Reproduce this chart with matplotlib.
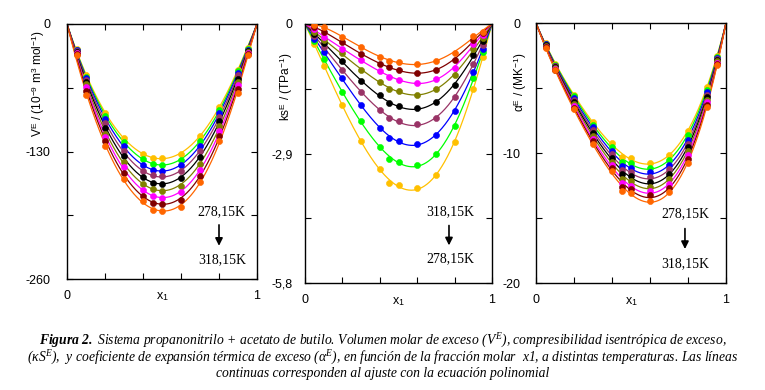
import numpy as np
import matplotlib
matplotlib.use("Agg")
import matplotlib.pyplot as plt

plt.rcParams['font.family'] = ['Liberation Sans', 'DejaVu Sans']
plt.rcParams['mathtext.fontset'] = 'custom'
plt.rcParams['mathtext.rm'] = 'Liberation Sans'
plt.rcParams['mathtext.it'] = 'Liberation Serif:italic'
plt.rcParams['mathtext.bf'] = 'Liberation Serif:italic:bold'

# ---------------- data ----------------
x_exp = [0.05, 0.1, 0.2, 0.3, 0.4, 0.45, 0.5, 0.6, 0.7, 0.8, 0.9, 0.95]
temperatures = ['278,15K', '283,15K', '288,15K', '293,15K', '298,15K',
                '303,15K', '308,15K', '313,15K', '318,15K']
colors = ['#FFC000', '#00FF00', '#0000FF', '#993366', '#000000',
          '#808000', '#FF00FF', '#800000', '#FF6600']

VE_278 = [-25.5, -52.5, -90.5, -116.0, -132.6, -136.3, -136.6, -132.2, -114.5, -84.3, -46.4, -24.4]
VE_283 = [-26.3, -53.8, -93.3, -120.0, -137.7, -142.3, -143.4, -138.7, -119.5, -87.7, -48.1, -25.4]
VE_288 = [-27.0, -55.2, -96.5, -124.5, -144.1, -148.5, -149.6, -143.8, -124.5, -91.0, -49.8, -26.1]
VE_293 = [-27.7, -56.9, -101.0, -129.7, -150.2, -154.3, -155.3, -150.2, -129.8, -94.4, -52.5, -27.1]
VE_298 = [-28.4, -58.9, -106.5, -134.7, -156.0, -161.7, -163.1, -157.0, -135.3, -98.9, -55.9, -27.8]
VE_303 = [-29.2, -61.6, -111.7, -140.2, -162.8, -168.0, -170.0, -164.9, -142.5, -104.0, -59.2, -28.8]
VE_308 = [-29.9, -64.7, -115.5, -146.0, -168.9, -175.0, -177.4, -171.6, -149.0, -109.0, -62.6, -29.4]
VE_313 = [-30.6, -68.1, -119.3, -151.9, -175.0, -182.5, -183.2, -179.1, -155.0, -114.1, -66.0, -30.5]
VE_318 = [-31.5, -72.5, -124.5, -157.7, -180.8, -189.3, -190.3, -186.6, -161.5, -119.2, -70.0, -32.0]

KS_278 = [-0.45, -0.93, -1.82, -2.62, -3.25, -3.55, -3.61, -3.68, -3.38, -2.65, -1.45, -0.74]
KS_283 = [-0.39, -0.78, -1.53, -2.17, -2.75, -3.02, -3.09, -3.15, -2.92, -2.29, -1.22, -0.63]
KS_288 = [-0.33, -0.63, -1.22, -1.82, -2.32, -2.55, -2.62, -2.68, -2.48, -1.95, -1.08, -0.55]
KS_293 = [-0.27, -0.52, -1.02, -1.52, -1.92, -2.11, -2.18, -2.25, -2.10, -1.64, -0.89, -0.46]
KS_298 = [-0.22, -0.43, -0.83, -1.28, -1.60, -1.78, -1.84, -1.89, -1.74, -1.37, -0.69, -0.38]
KS_303 = [-0.17, -0.36, -0.66, -1.02, -1.30, -1.45, -1.51, -1.58, -1.45, -1.15, -0.55, -0.31]
KS_308 = [-0.12, -0.29, -0.55, -0.81, -1.05, -1.18, -1.26, -1.32, -1.23, -0.99, -0.44, -0.25]
KS_313 = [-0.07, -0.18, -0.40, -0.68, -0.89, -0.96, -1.04, -1.10, -1.02, -0.80, -0.35, -0.21]
KS_318 = [-0.02, -0.07, -0.28, -0.52, -0.73, -0.82, -0.86, -0.90, -0.82, -0.64, -0.27, -0.17]

AE_278 = [-1.55, -3.15, -5.50, -7.62, -9.23, -10.33, -10.40, -10.77, -10.13, -8.33, -4.95, -2.56]
AE_283 = [-1.59, -3.21, -5.60, -7.82, -9.52, -10.67, -10.77, -11.15, -10.50, -8.64, -5.14, -2.64]
AE_288 = [-1.64, -3.27, -5.75, -8.02, -9.82, -11.00, -11.12, -11.48, -10.90, -8.97, -5.33, -2.72]
AE_293 = [-1.68, -3.33, -5.90, -8.24, -10.10, -11.32, -11.46, -11.85, -11.25, -9.28, -5.53, -2.80]
AE_298 = [-1.72, -3.39, -6.05, -8.46, -10.38, -11.65, -11.80, -12.23, -11.65, -9.56, -5.72, -2.88]
AE_303 = [-1.77, -3.45, -6.20, -8.67, -10.66, -11.97, -12.17, -12.59, -12.00, -9.87, -5.91, -2.96]
AE_308 = [-1.81, -3.52, -6.35, -8.90, -10.95, -12.30, -12.53, -12.90, -12.35, -10.18, -6.10, -3.04]
AE_313 = [-1.86, -3.58, -6.50, -9.10, -11.18, -12.62, -12.80, -13.25, -12.68, -10.46, -6.30, -3.12]
AE_318 = [-1.90, -3.64, -6.65, -9.30, -11.41, -12.95, -13.05, -13.66, -13.02, -10.77, -6.49, -3.20]

VE = [VE_278, VE_283, VE_288, VE_293, VE_298, VE_303, VE_308, VE_313, VE_318]
KS = [KS_278, KS_283, KS_288, KS_293, KS_298, KS_303, KS_308, KS_313, KS_318]
AE = [AE_278, AE_283, AE_288, AE_293, AE_298, AE_303, AE_308, AE_313, AE_318]


def rk_fit(x, y, order=5):
    x = np.asarray(x)
    y = np.asarray(y)
    A = np.column_stack([x * (1 - x) * (2 * x - 1) ** k for k in range(order)])
    coef, *_ = np.linalg.lstsq(A, y, rcond=None)
    xf = np.linspace(0, 1, 300)
    Af = np.column_stack([xf * (1 - xf) * (2 * xf - 1) ** k for k in range(order)])
    return xf, Af @ coef


fig = plt.figure(figsize=(7.65, 3.90), dpi=100)
W, H = 765.0, 390.0

def make_ax(l, r, t, b):
    return fig.add_axes([l / W, 1 - b / H, (r - l) / W, (b - t) / H])

ax1 = make_ax(67, 257, 24, 279)
ax2 = make_ax(305, 492, 24, 283)
ax3 = make_ax(536, 726, 23, 283)

panels = [
    (ax1, VE, -260, [-260, -195, -130, -65, 0], ['-260', '', '-130', '', '0'],
     r'V$^{\mathrm{E}}$ / (10$^{\mathrm{-9}}$ m$^{\mathrm{3}}$ mol$^{\mathrm{-1}}$)', (-0.15, 0.765), 12),
    (ax2, KS, -5.8, [-5.8, -4.35, -2.9, -1.45, 0], ['-5,8', '', '-2,9', '', '0'],
     r'ks$^{\mathrm{E}}$ / (TPa$^{\mathrm{-1}}$)', (-0.098, 0.757), 9),
    (ax3, AE, -20, [-20, -15, -10, -5, 0], ['-20', '', '-10', '', '0'],
     r'α$^{\mathrm{E}}$ / (MK$^{\mathrm{-1}}$)', (-0.084, 0.773), 11),
]

for ax, data, ymin, yt, ytl, ylab, ylpos, pad in panels:
    for series, c in zip(data, colors):
        xf, yf = rk_fit(x_exp, series)
        ax.plot(xf, yf, color=c, lw=0.9, zorder=2)
        ax.plot(x_exp, series, 'o', color=c, ms=4.4, mec=c, mew=0.4, zorder=3)
    ax.set_xlim(0, 1)
    ax.set_ylim(ymin, 0)
    ax.set_xticks([0, 0.2, 0.4, 0.6, 0.8, 1])
    ax.set_xticklabels(['0', '', '', '', '', '1'])
    ax.set_yticks(yt)
    ax.set_yticklabels(ytl)
    ax.tick_params(direction='in', top=True, right=True, length=4, width=0.8,
                   labelsize=9, colors='black')
    ax.tick_params(axis='y', pad=pad)
    ax.tick_params(axis='x', pad=8)
    for s in ax.spines.values():
        s.set_linewidth(1.0)
    ax.text(ylpos[0], ylpos[1], ylab, rotation=90, ha='center', va='center',
            transform=ax.transAxes, fontsize=8.6)
    ax.text(0.5, -0.07, r'x$_{\mathrm{1}}$', ha='center', va='center',
            transform=ax.transAxes, fontsize=9)

serif = ['Liberation Serif', 'DejaVu Serif']
arrow_kw = dict(arrowstyle='-|>', color='black', lw=1.2, mutation_scale=11)

# panel annotations
ax1.text(0.815, -191, '278,15K', ha='center', va='center', fontsize=10, family=serif)
ax1.annotate('', xy=(0.80, -229), xytext=(0.80, -202), arrowprops=arrow_kw)
ax1.text(0.815, -240, '318,15K', ha='center', va='center', fontsize=10, family=serif)

ax2.text(0.775, -4.21, '318,15K', ha='center', va='center', fontsize=10, family=serif)
ax2.annotate('', xy=(0.77, -5.02), xytext=(0.77, -4.45), arrowprops=arrow_kw)
ax2.text(0.775, -5.26, '278,15K', ha='center', va='center', fontsize=10, family=serif)

ax3.text(0.784, -14.7, '278,15K', ha='center', va='center', fontsize=10, family=serif)
ax3.annotate('', xy=(0.784, -17.6), xytext=(0.784, -15.6), arrowprops=arrow_kw)
ax3.text(0.784, -18.5, '318,15K', ha='center', va='center', fontsize=10, family=serif)

# caption
cap_kw = dict(ha='center', va='center', fontsize=9.8, style='italic',
              family=['Liberation Serif', 'DejaVu Serif'])
fig.text(0.5, 1 - 340.5 / H,
         r'$\mathbf{Figura\ 2.}$ Sistema propanonitrilo + acetato de butilo. Volumen molar de exceso ($V^{E}$), compresibilidad isentrópica de exceso,',
         **cap_kw)
fig.text(0.5, 1 - 357.5 / H,
         r'(κS$^{E}$),  y coeficiente de expansión térmica de exceso (α$^{E}$), en función de la fracción molar  x1, a distintas temperaturas. Las líneas',
         **cap_kw)
fig.text(0.5, 1 - 373.5 / H,
         'continuas corresponden al ajuste con la ecuación polinomial', **cap_kw)

fig.savefig('out.png', dpi=100)
